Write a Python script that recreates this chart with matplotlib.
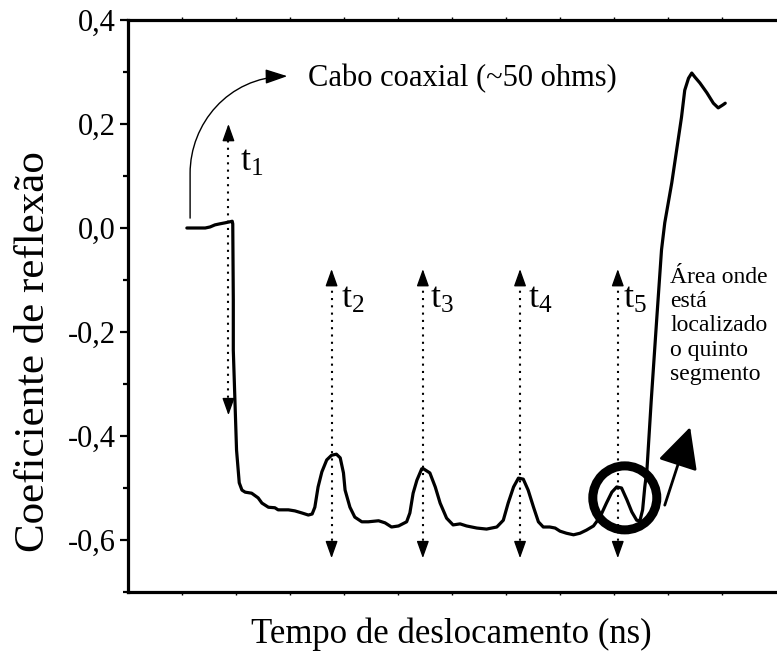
import matplotlib
matplotlib.use("Agg")
import matplotlib.pyplot as plt
from matplotlib.patches import Ellipse, FancyArrowPatch
from matplotlib.path import Path

plt.rcParams['font.family'] = ['Liberation Serif', 'DejaVu Serif']
plt.rcParams['mathtext.fontset'] = 'custom'
plt.rcParams['mathtext.rm'] = 'Liberation Serif'
plt.rcParams['mathtext.it'] = 'Liberation Serif:italic'

# ---- data (time in arbitrary ns units, reflection coefficient) ----
tempo = [1.09, 1.43, 1.52, 1.61, 1.70, 1.80, 1.89, 1.93, 1.94, 1.95, 1.95, 1.98,
         2.01, 2.06, 2.11, 2.17, 2.29, 2.41, 2.48, 2.60, 2.72, 2.78, 2.97, 3.09,
         3.22, 3.34, 3.41, 3.46, 3.52, 3.59, 3.68, 3.77, 3.86, 3.93, 3.99, 4.02,
         4.11, 4.20, 4.33, 4.45, 4.64, 4.76, 4.88, 5.01, 5.16, 5.22, 5.28, 5.35,
         5.44, 5.47, 5.59, 5.69, 5.78, 5.90, 6.02, 6.15, 6.27, 6.46, 6.64, 6.83,
         6.95, 7.04, 7.14, 7.23, 7.32, 7.41, 7.51, 7.60, 7.69, 7.81, 7.91, 8.00,
         8.12, 8.25, 8.37, 8.49, 8.62, 8.74, 8.86, 8.96, 9.05, 9.14, 9.24, 9.33,
         9.42, 9.48, 9.53, 9.57, 9.61, 9.69, 9.79, 9.88, 9.94, 10.07,
         10.16, 10.25, 10.31, 10.38, 10.44, 10.50, 10.59, 10.72, 10.84, 10.93,
         11.02, 11.06]
reflexao = [0.000, 0.000, 0.002, 0.006, 0.008, 0.010, 0.012, 0.013, 0.008, -0.138,
            -0.235, -0.331, -0.427, -0.490, -0.504, -0.508, -0.510, -0.519, -0.529,
            -0.537, -0.538, -0.542, -0.542, -0.544, -0.548, -0.552, -0.550, -0.537,
            -0.498, -0.469, -0.446, -0.437, -0.435, -0.442, -0.471, -0.504, -0.537,
            -0.556, -0.565, -0.565, -0.563, -0.567, -0.575, -0.573, -0.565, -0.548,
            -0.510, -0.485, -0.463, -0.463, -0.471, -0.498, -0.529, -0.558, -0.571,
            -0.569, -0.573, -0.577, -0.579, -0.575, -0.562, -0.529, -0.498, -0.481,
            -0.483, -0.504, -0.537, -0.565, -0.575, -0.575, -0.577, -0.583, -0.587,
            -0.590, -0.587, -0.581, -0.573, -0.556, -0.529, -0.508, -0.498, -0.500,
            -0.523, -0.546, -0.562, -0.563, -0.542, -0.498, -0.465, -0.331,
            -0.177, -0.042, 0.010, 0.087, 0.150, 0.213, 0.265, 0.288, 0.298,
            0.290, 0.279, 0.260, 0.240, 0.231, 0.237, 0.240]

# reflection markers t1..t5: position, lower and upper arrow tips
marcas_x = [1.86, 3.77, 5.46, 7.26, 9.07]
marcas_baixo = [-0.36, -0.635, -0.635, -0.635, -0.635]
marcas_cima = [0.20, -0.079, -0.079, -0.079, -0.079]
marcas_rotulo = [r'$\mathrm{t}_{1}$', r'$\mathrm{t}_{2}$', r'$\mathrm{t}_{3}$',
                 r'$\mathrm{t}_{4}$', r'$\mathrm{t}_{5}$']
rotulo_x = [2.07, 3.94, 5.59, 7.41, 9.17]
rotulo_y = [0.127, -0.137, -0.137, -0.137, -0.137]

yticks = [-0.6, -0.4, -0.2, 0.0, 0.2, 0.4]
ytick_labels = ['-0,6', '-0,4', '-0,2', '0,0', '0,2', '0,4']

fig = plt.figure(figsize=(7.77, 6.56), dpi=100)
ax = fig.add_axes([128 / 777, 64 / 656, 1 - 128 / 777, 572 / 656])
ax.set_xlim(0, 649 / 54)
ax.set_ylim(-0.7, 0.4)

for s in ['left', 'top', 'bottom']:
    ax.spines[s].set_linewidth(2.3)
ax.spines['right'].set_visible(False)

ax.set_yticks(yticks)
ax.set_yticklabels(ytick_labels, fontsize=22)
ax.set_yticks([-0.7, -0.5, -0.3, -0.1, 0.1, 0.3], minor=True)
ax.tick_params(axis='y', which='major', direction='out', length=6, width=1.6, pad=3)
ax.tick_params(axis='y', which='minor', direction='out', length=3.5, width=1.6)
ax.set_xticks(range(1, 12))
ax.tick_params(axis='x', which='major', direction='out', length=2, width=1,
               top=True, labelbottom=False)

ax.plot(tempo, reflexao, color='black', lw=2.3, zorder=3,
        solid_joinstyle='round', solid_capstyle='round')

# dotted double arrows
for x, lo, hi, lab, lx, ly in zip(marcas_x, marcas_baixo, marcas_cima,
                                  marcas_rotulo, rotulo_x, rotulo_y):
    ax.plot([x, x], [lo + 0.02, hi - 0.02], color='black', lw=1.5,
            linestyle=(0, (1, 2.5)), zorder=2)
    for tip, base in [(hi, hi - 0.03), (lo, lo + 0.03)]:
        ax.annotate('', xy=(x, tip), xytext=(x, base),
                    arrowprops=dict(arrowstyle='-|>,head_length=0.7,head_width=0.25',
                                    color='black', lw=1, mutation_scale=15,
                                    shrinkA=0, shrinkB=0))
    ax.text(lx, ly, lab, fontsize=26, ha='left', va='center')

# coaxial cable annotation
verts = [(1.15, 0.019), (1.15, 0.105), (1.15, 0.20), (1.85, 0.29), (2.95, 0.292)]
codes = [Path.MOVETO, Path.LINETO, Path.CURVE4, Path.CURVE4, Path.CURVE4]
seta = FancyArrowPatch(path=Path(verts, codes),
                       arrowstyle='-|>,head_length=0.9,head_width=0.3',
                       mutation_scale=15, color='black', lw=1)
ax.add_patch(seta)
ax.text(3.33, 0.288, 'Cabo coaxial (~50 ohms)', fontsize=22, ha='left', va='center')

# fifth segment highlight
ax.add_patch(Ellipse((9.20, -0.519), 64 / 54, 64 / 520, fill=False,
                     edgecolor='black', lw=6.5, zorder=4))
ax.annotate('', xy=(10.41, -0.383), xytext=(9.94, -0.533),
            arrowprops=dict(arrowstyle='-|>,head_length=1.7,head_width=0.85',
                            color='black', lw=2, mutation_scale=15,
                            shrinkA=0, shrinkB=0))
ax.text(10.04, -0.075, 'Área onde\nestá\nlocalizado\no quinto\nsegmento',
        fontsize=17, ha='left', va='top', linespacing=1.2)

ax.set_ylabel('Coeficiente de reflexão', fontsize=31)
ax.yaxis.set_label_coords(-0.115, 0.42)
ax.set_xlabel('Tempo de deslocamento (ns)', fontsize=25)
ax.xaxis.set_label_coords(0.498, -0.045)

fig.savefig('out.png', dpi=100)
